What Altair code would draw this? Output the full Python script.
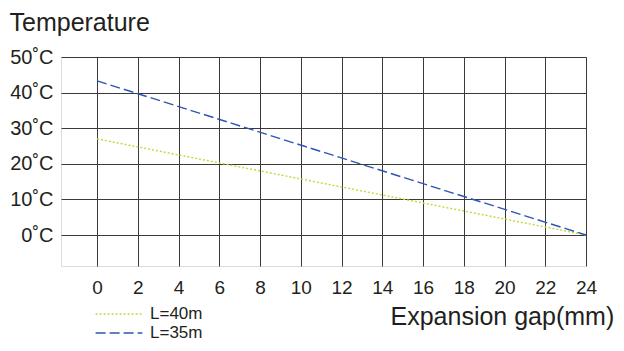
import altair as alt
import pandas as pd

# ---- data ----
series_names = ["L=40m", "L=35m"]
gap_mm = [0, 24]
temp_L40 = [27.0, 0.0]
temp_L35 = [43.3, 0.0]
x_tick_values = [0, 2, 4, 6, 8, 10, 12, 14, 16, 18, 20, 22, 24]
y_tick_values = [0, 10, 20, 30, 40, 50]

rows = []
for g, t in zip(gap_mm, temp_L40):
    rows.append({"gap": g, "temp": t, "series": series_names[0]})
for g, t in zip(gap_mm, temp_L35):
    rows.append({"gap": g, "temp": t, "series": series_names[1]})
df = pd.DataFrame(rows)

TXT = "#231f20"
GRID = "#3a3a3a"
FONT = "Liberation Sans"

legend_opts = dict(
    title=None, orient="none", legendX=48, legendY=247,
    symbolType="M-2.6,0H2.6", symbolSize=324, symbolStrokeWidth=1.4,
    labelFontSize=17, labelColor=TXT, labelFont=FONT, labelOffset=21,
    rowPadding=1,
)

chart = alt.Chart(df).mark_line(strokeWidth=1.4).encode(
    x=alt.X(
        "gap:Q",
        scale=alt.Scale(domain=[-1.77, 24], nice=False, zero=False),
        axis=alt.Axis(
            values=x_tick_values, grid=True, gridColor=GRID, gridWidth=1,
            gridOpacity=1, domain=False, ticks=False, tickSize=0,
            labelPadding=12, labelFontSize=19, labelColor=TXT, labelFont=FONT,
            labelFlush=False, labelOverlap=False,
            title="Expansion gap(mm)", titleX=329, titleY=58,
            titleAlign="left", titleBaseline="alphabetic", titleFontSize=25,
            titleFontWeight="normal", titleColor=TXT, titleFont=FONT,
        ),
    ),
    y=alt.Y(
        "temp:Q",
        scale=alt.Scale(domain=[-8.7, 50], nice=False, zero=False),
        axis=alt.Axis(
            values=y_tick_values, grid=True, gridColor=GRID, gridWidth=1,
            gridOpacity=1, domain=False, ticks=False, tickSize=0,
            labelPadding=8, labelFontSize=20, labelColor=TXT, labelFont=FONT,
            labelExpr="datum.value + '\u02daC'", labelOverlap=False,
            title="Temperature", titleAngle=0, titleX=-52, titleY=-27,
            titleAlign="left", titleBaseline="alphabetic", titleFontSize=25,
            titleFontWeight="normal", titleColor=TXT, titleFont=FONT,
        ),
    ),
    color=alt.Color(
        "series:N",
        scale=alt.Scale(domain=series_names, range=["#c2d83a", "#2d55b3"]),
        legend=alt.Legend(**legend_opts),
    ),
    strokeDash=alt.StrokeDash(
        "series:N",
        scale=alt.Scale(domain=series_names, range=[[2, 2], [10, 4]]),
        legend=alt.Legend(**legend_opts),
    ),
).properties(
    width=525,
    height=209,
    padding={"left": 53, "top": 49, "right": 30, "bottom": 77},
    autosize=alt.AutoSizeParams(type="none"),
).configure_view(stroke=None).configure(font=FONT, background="white")

chart.save("out.html", embed_options={"renderer": "svg", "actions": False})
